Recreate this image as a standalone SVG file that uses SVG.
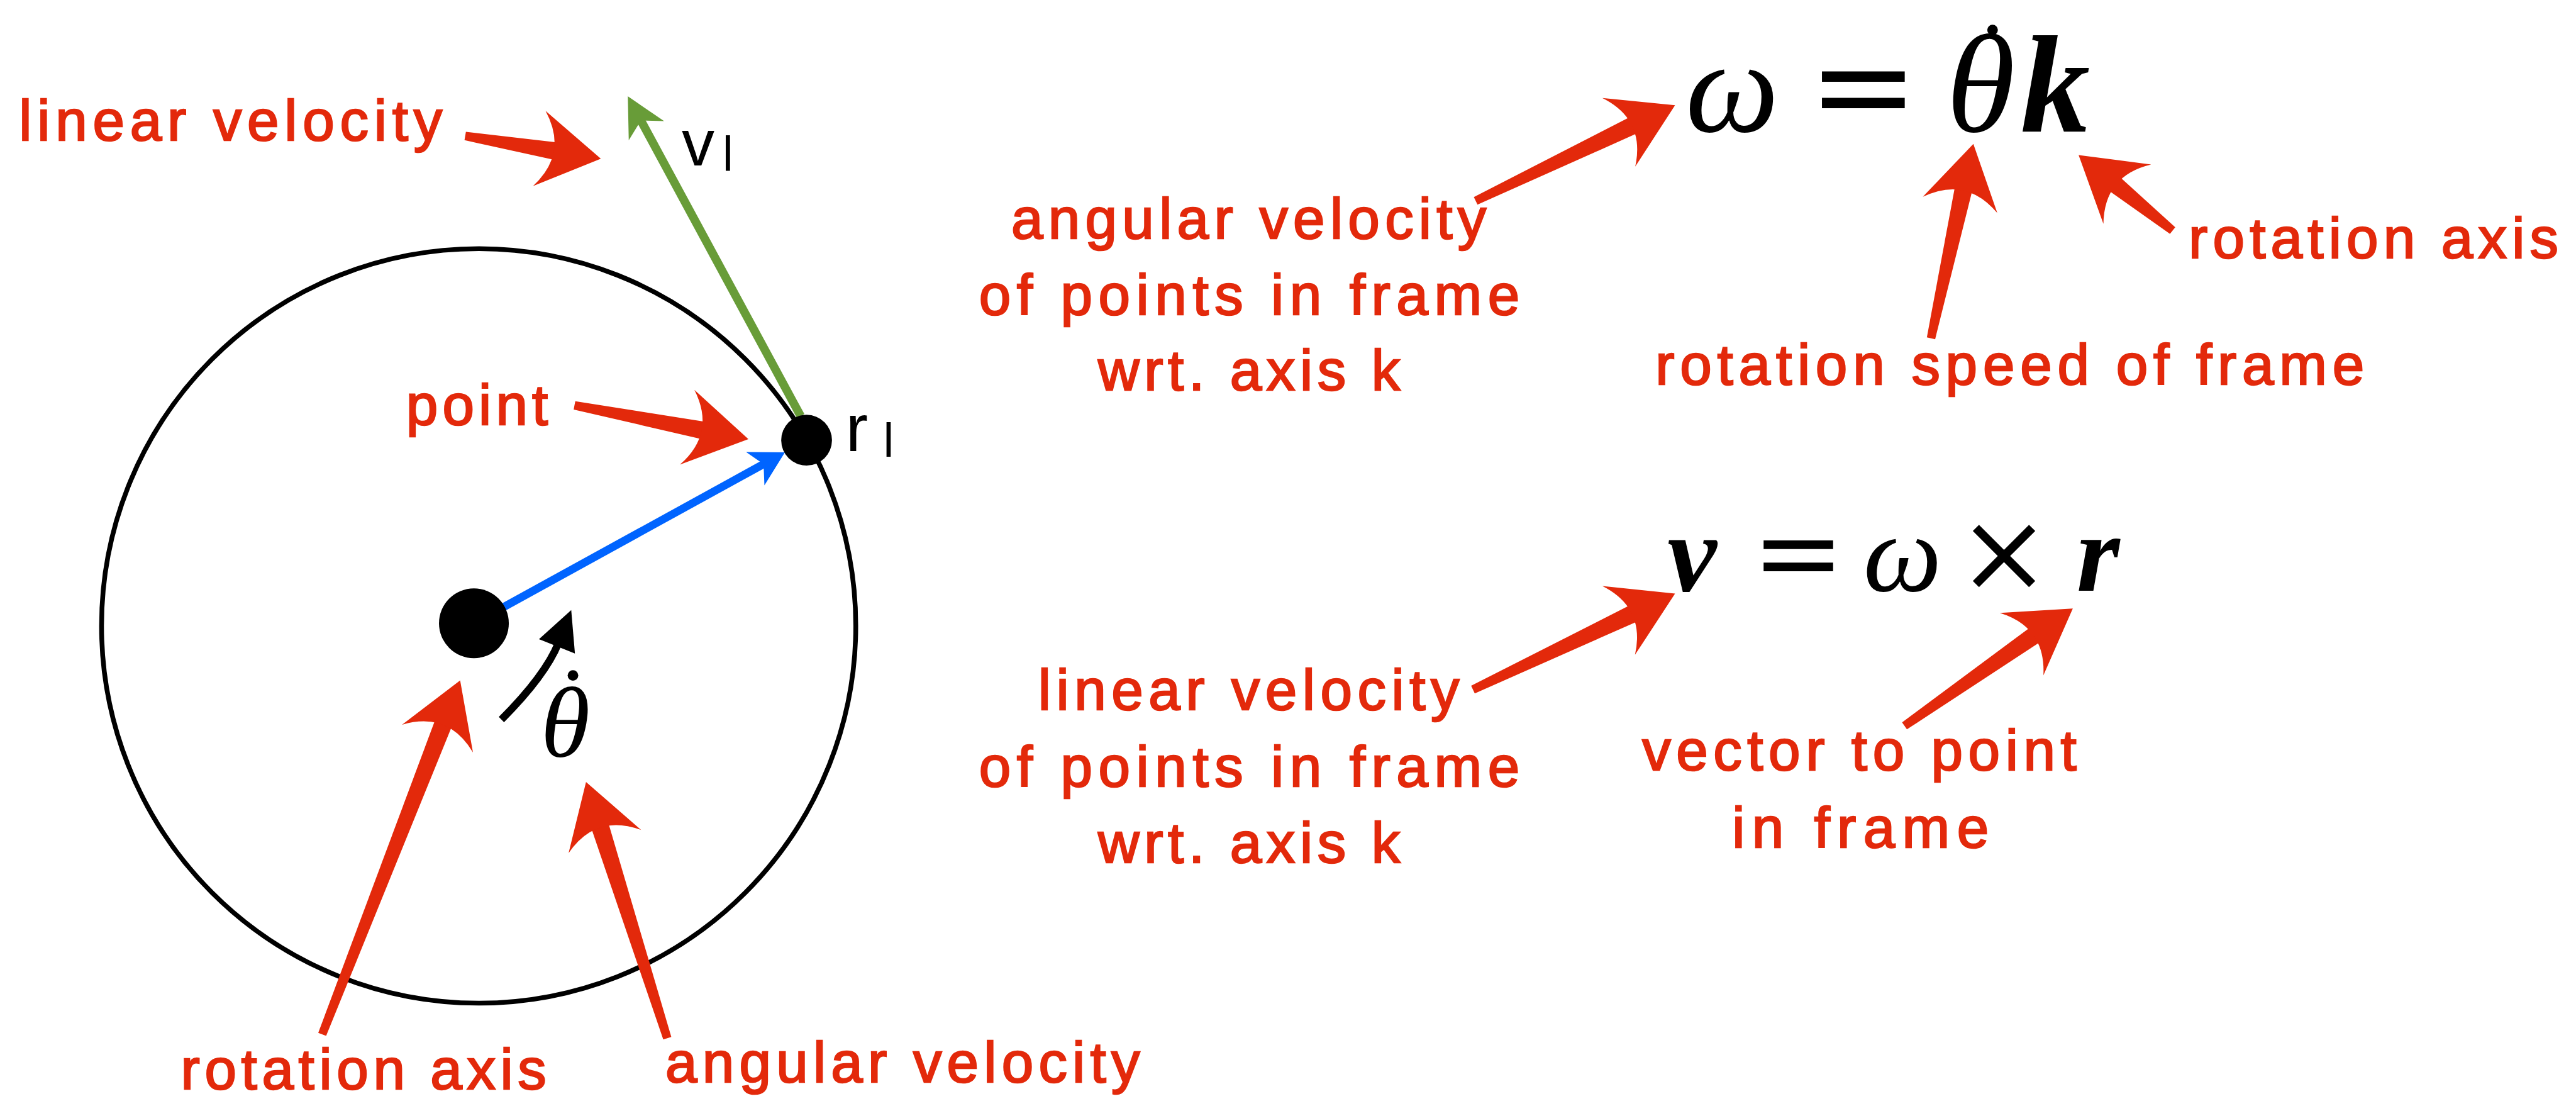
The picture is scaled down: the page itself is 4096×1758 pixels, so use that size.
<svg xmlns="http://www.w3.org/2000/svg" xmlns:xlink="http://www.w3.org/1999/xlink" width="4096" height="1758" viewBox="0 0 4096 1758">
<style>
.lbl{font-family:"Liberation Sans",Arial,sans-serif;font-size:108px;fill:#e3290b;stroke:#e3290b;stroke-width:3}
.red{fill:#e3290b}
.sym{font-family:"Liberation Sans",Arial,sans-serif;fill:#000}
.mi{font-family:"Liberation Serif","Times New Roman",serif;font-style:italic;fill:#000;text-anchor:middle}
.mb{font-family:"Liberation Serif","Times New Roman",serif;font-style:italic;font-weight:bold;fill:#000;text-anchor:middle}
.mo{font-family:"DejaVu Serif","Liberation Serif",serif;fill:#000;text-anchor:middle}
.dot{font-style:normal}
</style>
<defs>
<path id="rhead" d="M0,0 L-118,-72 Q-62,0 -118,72 Z"/>
</defs>
<rect width="4096" height="1758" fill="#fff"/>
<g transform="scale(0.841)">
  <g id="wheel">
    <circle cx="905" cy="1183" r="713" fill="none" stroke="#000" stroke-width="9"/>
  </g>
  <g id="vectors">
    <g id="r-vector" transform="translate(1484,855) rotate(-28.8)">
      <line x1="-674" y1="0" x2="-44" y2="0" stroke="#0064ff" stroke-width="15"/>
      <path d="M0,0 L-64,-36 L-46,0 L-64,36 Z" fill="#0064ff"/>
    </g>
    <g id="v-vector" transform="translate(1187,182) rotate(-118.4)">
      <line x1="-687" y1="0" x2="-50" y2="0" stroke="#689c38" stroke-width="16"/>
      <path d="M0,0 L-74,-38 L-52,0 L-74,38 Z" fill="#689c38"/>
    </g>
    <g id="rotation-arrow">
      <path d="M948,1360 Q1031,1277 1056,1215" fill="none" stroke="#000" stroke-width="14"/>
      <path d="M1080,1153 L1019,1208 L1087,1235 Z" fill="#000"/>
    </g>
  </g>
  <g id="center-node">
    <circle cx="896" cy="1178" r="66" fill="#000"/>
  </g>
  <g id="point-node">
    <circle cx="1525" cy="832" r="48" fill="#000"/>
  </g>
  <g id="labels-black">
    <text class="sym" x="1289" y="313" font-size="124">v</text>
    <text class="sym" x="1366" y="323" font-size="92">l</text>
    <text class="sym" x="1599" y="852" font-size="126">r</text>
    <text class="sym" x="1670" y="863" font-size="90">l</text>
    <text class="mi" font-size="190"><tspan x="1069" y="1429">θ</tspan><tspan class="dot" x="1083" y="1392">˙</tspan></text>
  </g>
  <g id="eq-omega">
    <text class="mi" x="3275" y="248" font-size="250">ω</text>
    <text class="mo" x="3523" y="248" font-size="250">=</text>
    <text class="mi" font-size="265"><tspan x="3745" y="248">θ</tspan><tspan class="dot" x="3767" y="172" font-size="190">˙</tspan></text>
    <text class="mb" x="3886" y="248" font-size="262">k</text>
  </g>
  <g id="eq-v">
    <text class="mb" x="3199" y="1117" font-size="210">v</text>
    <text class="mo" x="3400" y="1117" font-size="210">=</text>
    <text class="mi" x="3597" y="1117" font-size="210">ω</text>
    <text class="mo" x="3789" y="1117" font-size="210">×</text>
    <text class="mb" x="3967" y="1117" font-size="210">r</text>
  </g>
  <g id="annotations">
    <text class="lbl" x="36" y="265" textLength="800">linear velocity</text>
    <text class="lbl" x="768" y="803" textLength="268">point</text>
    <text class="lbl" x="342" y="2058" textLength="691">rotation axis</text>
    <text class="lbl" x="1258" y="2045" textLength="897">angular velocity</text>
    <text class="lbl" x="1912" y="451" textLength="898">angular velocity</text>
    <text class="lbl" x="1851" y="594" textLength="1022">of points in frame</text>
    <text class="lbl" x="2076" y="737" textLength="571">wrt. axis k</text>
    <text class="lbl" x="4138" y="488" textLength="699">rotation axis</text>
    <text class="lbl" x="3130" y="726" textLength="1340">rotation speed of frame</text>
    <text class="lbl" x="1963" y="1341" textLength="796">linear velocity</text>
    <text class="lbl" x="1851" y="1486" textLength="1022">of points in frame</text>
    <text class="lbl" x="2076" y="1630" textLength="571">wrt. axis k</text>
    <text class="lbl" x="3105" y="1456" textLength="821">vector to point</text>
    <text class="lbl" x="3275" y="1602" textLength="485">in frame</text>
  </g>
  <g id="connectors" class="red">
    <g transform="translate(1136,300) rotate(9.5)"><path d="M-260,-8 L-80,-17 L-80,17 L-260,8 Z"/><use xlink:href="#rhead"/></g>
    <g transform="translate(1415,830) rotate(11)"><path d="M-335,-8 L-80,-17 L-80,17 L-335,8 Z"/><use xlink:href="#rhead"/></g>
    <g transform="translate(870,1286) rotate(-68.7)"><path d="M-718,-8 L-80,-17 L-80,17 L-718,8 Z"/><use xlink:href="#rhead"/></g>
    <g transform="translate(1108,1478) rotate(-107.6)"><path d="M-508,-8 L-80,-17 L-80,17 L-508,8 Z"/><use xlink:href="#rhead"/></g>
    <g transform="translate(3167,199) rotate(-25.6)"><path d="M-418,-8 L-80,-17 L-80,17 L-418,8 Z"/><use xlink:href="#rhead"/></g>
    <g transform="translate(3731,272) rotate(-77.7)"><path d="M-376,-8 L-80,-17 L-80,17 L-376,8 Z"/><use xlink:href="#rhead"/></g>
    <g transform="translate(3930,293) rotate(-141.2)"><path d="M-228,-8 L-80,-17 L-80,17 L-228,8 Z"/><use xlink:href="#rhead"/></g>
    <g transform="translate(3167,1122) rotate(-25.4)"><path d="M-423,-8 L-80,-17 L-80,17 L-423,8 Z"/><use xlink:href="#rhead"/></g>
    <g transform="translate(3919,1150) rotate(-34.9)"><path d="M-388,-8 L-80,-17 L-80,17 L-388,8 Z"/><use xlink:href="#rhead"/></g>
  </g>
</g>
</svg>
